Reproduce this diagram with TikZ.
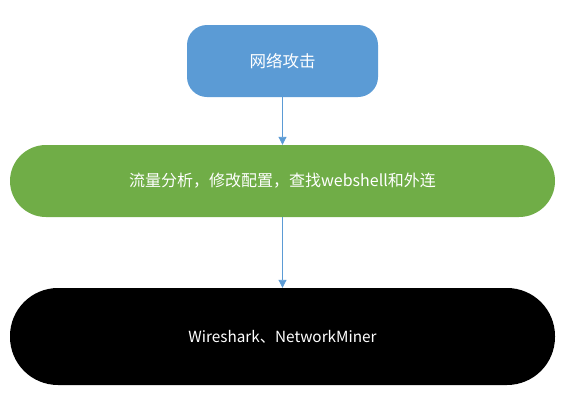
\documentclass[tikz,border=0pt]{standalone}
\usepackage{fontspec}
\setmainfont{Noto Sans CJK SC}
\usetikzlibrary{arrows.meta}
\definecolor{cblue}{HTML}{5B9BD5}
\definecolor{cgreen}{HTML}{70AD47}
\tikzset{
  box/.style={draw=none, text=white, inner sep=0pt},
  link/.style={draw=cblue, line width=0.9pt, -{Triangle[length=8pt,width=8pt]}}
}
\begin{document}
\begin{tikzpicture}[x=1pt,y=-1pt]
\useasboundingbox (0,0) rectangle (573,402);
\node[box, fill=cblue, rounded corners=20pt, minimum width=191pt, minimum height=72pt, font=\fontsize{16.5}{19}\selectfont] (a) at (282.5,61) {网络攻击};
\node[box, fill=cgreen, rounded corners=36pt, minimum width=545pt, minimum height=72pt, font=\fontsize{16}{19}\selectfont] (b) at (282.5,181) {流量分析，修改配置，查找webshell和外连};
\node[box, fill=black, rounded corners=48pt, minimum width=545pt, minimum height=97pt, font=\fontsize{15.3}{18}\selectfont] (c) at (282.5,336.5) {Wireshark、NetworkMiner};
\draw[link] (a.south) -- (b.north);
\draw[link] (b.south) -- (c.north);
\end{tikzpicture}
\end{document}
